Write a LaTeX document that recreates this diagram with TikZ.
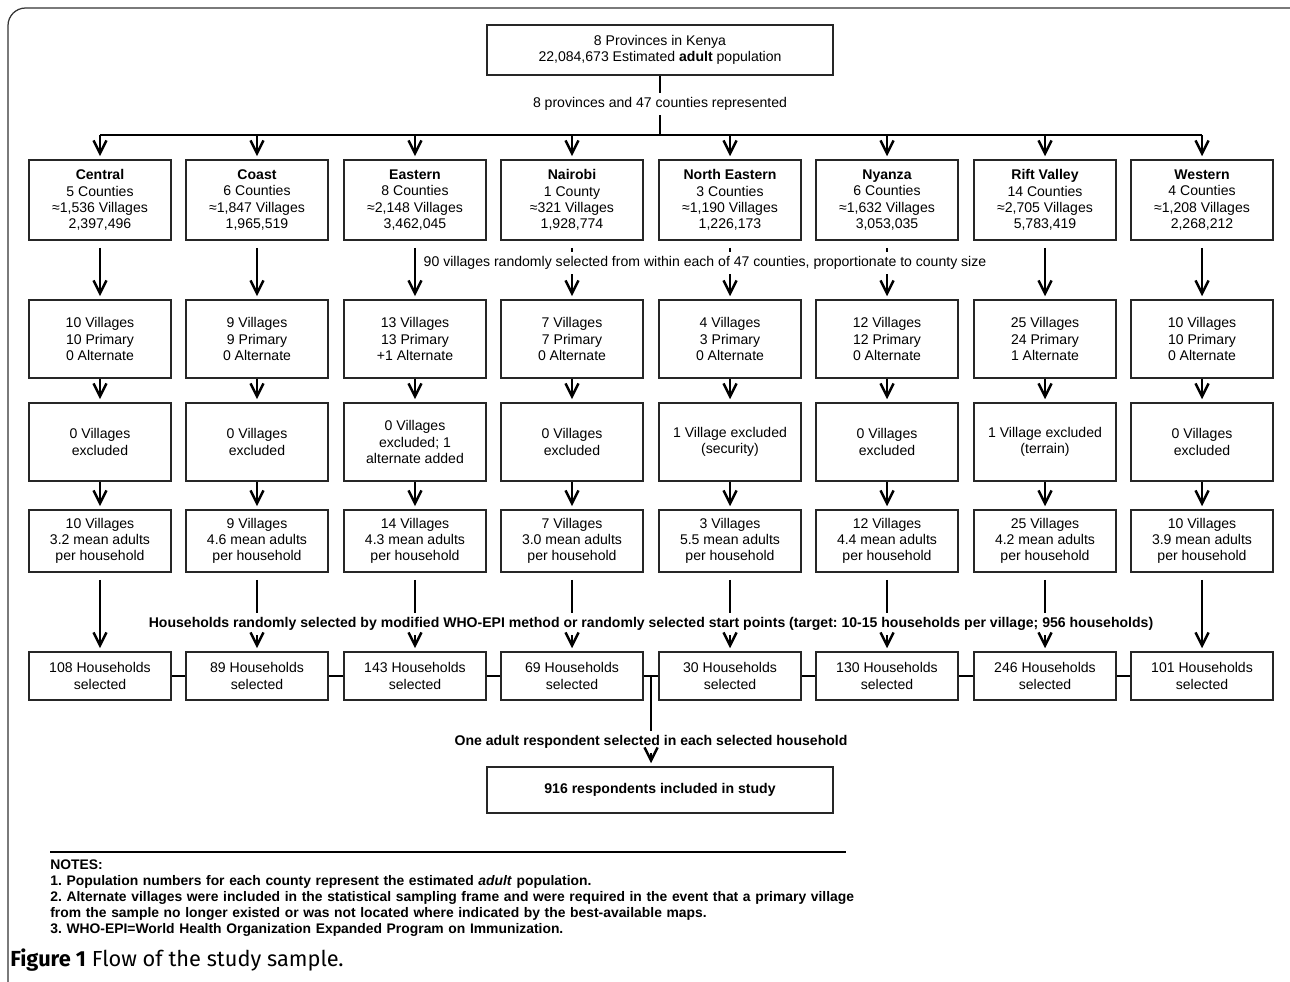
\documentclass[tikz,border=0pt]{standalone}
\usepackage{fontspec}
\setmainfont{Liberation Sans}
\newfontfamily\capfont{Fira Sans}
\usetikzlibrary{arrows.meta}
\frenchspacing

\tikzset{
  box/.style={draw=black!85, line width=0.9pt, align=center, inner sep=0pt,
    minimum width=2.84cm, font=\fontsize{8}{9.3}\selectfont},
  provbox/.style={box, minimum height=1.6cm},
  sampbox/.style={box, minimum height=1.56cm},
  meanbox/.style={box, minimum height=1.24cm},
  hhbox/.style={box, minimum height=0.96cm},
  label/.style={align=center, inner sep=2.5pt, font=\fontsize{8}{9.3}\selectfont},
  link/.style={line width=0.6pt},
  gap/.style={shorten <=0.14cm},
  arr/.style={link, shorten >=0.06cm, -{Straight Barb[length=0.26cm, width=0.26cm, line width=1.4pt]}},
}

\begin{document}
\begin{tikzpicture}[x=0.02cm, y=-0.02cm]
			%%%%% START %%%%%
			\useasboundingbox (0,0) rectangle (1290,981);
			\draw[black!80, line width=0.7pt, rounded corners=10] (8,995) -- (8,8) -- (1300,8);
			
			\node[box, minimum width=6.92cm, minimum height=1cm] (kenya) at (660,50) {8 Provinces in Kenya\\22,084,673 Estimated \textbf{adult} population};
			\node[label] (repr) at (660,104) {8 provinces and 47 counties represented};
			\coordinate (bar) at (660,135);
			
			% provinces
			\node[provbox] (cen1) at (100,200) {\textbf{Central}\\5 Counties\\≈1,536 Villages\\2,397,496};
			\node[provbox] (coa1) at (257,200) {\textbf{Coast}\\6 Counties\\≈1,847 Villages\\1,965,519};
			\node[provbox] (eas1) at (415,200) {\textbf{Eastern}\\8 Counties\\≈2,148 Villages\\3,462,045};
			\node[provbox] (nai1) at (572,200) {\textbf{Nairobi}\\1 County\\≈321 Villages\\1,928,774};
			\node[provbox] (nea1) at (730,200) {\textbf{North Eastern}\\3 Counties\\≈1,190 Villages\\1,226,173};
			\node[provbox] (nya1) at (887,200) {\textbf{Nyanza}\\6 Counties\\≈1,632 Villages\\3,053,035};
			\node[provbox] (rif1) at (1045,200) {\textbf{Rift Valley}\\14 Counties\\≈2,705 Villages\\5,783,419};
			\node[provbox] (wes1) at (1202,200) {\textbf{Western}\\4 Counties\\≈1,208 Villages\\2,268,212};
			
			\node[label] (rand) at (705,263) {90 villages randomly selected from within each of 47 counties, proportionate to county size};
			
			% sampled villages
			\node[sampbox] (cen2) at (100,339) {10 Villages\\10 Primary\\0 Alternate};
			\node[sampbox] (coa2) at (257,339) {9 Villages\\9 Primary\\0 Alternate};
			\node[sampbox] (eas2) at (415,339) {13 Villages\\13 Primary\\+1 Alternate};
			\node[sampbox] (nai2) at (572,339) {7 Villages\\7 Primary\\0 Alternate};
			\node[sampbox] (nea2) at (730,339) {4 Villages\\3 Primary\\0 Alternate};
			\node[sampbox] (nya2) at (887,339) {12 Villages\\12 Primary\\0 Alternate};
			\node[sampbox] (rif2) at (1045,339) {25 Villages\\24 Primary\\1 Alternate};
			\node[sampbox] (wes2) at (1202,339) {10 Villages\\10 Primary\\0 Alternate};
			
			% exclusions
			\node[sampbox] (cen3) at (100,442) {0 Villages\\excluded};
			\node[sampbox] (coa3) at (257,442) {0 Villages\\excluded};
			\node[sampbox] (eas3) at (415,442) {0 Villages\\excluded; 1\\alternate added};
			\node[sampbox] (nai3) at (572,442) {0 Villages\\excluded};
			\node[sampbox] (nea3) at (730,442) {1 Village excluded\\(security)};
			\node[sampbox] (nya3) at (887,442) {0 Villages\\excluded};
			\node[sampbox] (rif3) at (1045,442) {1 Village excluded\\(terrain)};
			\node[sampbox] (wes3) at (1202,442) {0 Villages\\excluded};
			
			% mean adults
			\node[meanbox] (cen4) at (100,541) {10 Villages\\3.2 mean adults\\per household};
			\node[meanbox] (coa4) at (257,541) {9 Villages\\4.6 mean adults\\per household};
			\node[meanbox] (eas4) at (415,541) {14 Villages\\4.3 mean adults\\per household};
			\node[meanbox] (nai4) at (572,541) {7 Villages\\3.0 mean adults\\per household};
			\node[meanbox] (nea4) at (730,541) {3 Villages\\5.5 mean adults\\per household};
			\node[meanbox] (nya4) at (887,541) {12 Villages\\4.4 mean adults\\per household};
			\node[meanbox] (rif4) at (1045,541) {25 Villages\\4.2 mean adults\\per household};
			\node[meanbox] (wes4) at (1202,541) {10 Villages\\3.9 mean adults\\per household};
			
			\node[label, font=\bfseries\fontsize{8}{9.3}\selectfont] (hhsel) at (651,624) {Households randomly selected by modified WHO-EPI method or randomly selected start points (target: 10-15 households per village; 956 households)};
			
			% households
			\node[hhbox] (cen5) at (100,676) {108 Households\\selected};
			\node[hhbox] (coa5) at (257,676) {89 Households\\selected};
			\node[hhbox] (eas5) at (415,676) {143 Households\\selected};
			\node[hhbox] (nai5) at (572,676) {69 Households\\selected};
			\node[hhbox] (nea5) at (730,676) {30 Households\\selected};
			\node[hhbox] (nya5) at (887,676) {130 Households\\selected};
			\node[hhbox] (rif5) at (1045,676) {246 Households\\selected};
			\node[hhbox] (wes5) at (1202,676) {101 Households\\selected};
			\coordinate (join) at (651,676);
			
			\node[label, font=\bfseries\fontsize{8}{9.3}\selectfont] (resp) at (651,742) {One adult respondent selected in each selected household};
			\node[box, minimum width=6.92cm, minimum height=0.92cm, font=\bfseries\fontsize{8}{9.3}\selectfont] (final) at (660,790) {916 respondents included in study};
			
			% top split
			\draw[link] (kenya) -- (repr);
			\draw[link] (repr) -- (bar);
			\draw[link] (cen1 |- bar) -- (wes1 |- bar);
			\draw[arr] (cen1 |- bar) -- (cen1);
			\draw[arr] (coa1 |- bar) -- (coa1);
			\draw[arr] (eas1 |- bar) -- (eas1);
			\draw[arr] (nai1 |- bar) -- (nai1);
			\draw[arr] (nea1 |- bar) -- (nea1);
			\draw[arr] (nya1 |- bar) -- (nya1);
			\draw[arr] (rif1 |- bar) -- (rif1);
			\draw[arr] (wes1 |- bar) -- (wes1);
			
			% provinces to villages
			\draw[arr, gap] (cen1) -- (cen2);
			\draw[arr, gap] (coa1) -- (coa2);
			\draw[arr, gap] (eas1) -- (eas2);
			\draw[link, gap] (nai1) -- (nai1 |- rand.north);
			\draw[arr] (nai1 |- rand.south) -- (nai2);
			\draw[link, gap] (nea1) -- (nea1 |- rand.north);
			\draw[arr] (nea1 |- rand.south) -- (nea2);
			\draw[link, gap] (nya1) -- (nya1 |- rand.north);
			\draw[arr] (nya1 |- rand.south) -- (nya2);
			\draw[arr, gap] (rif1) -- (rif2);
			\draw[arr, gap] (wes1) -- (wes2);
			
			\draw[arr] (cen2) -- (cen3);
			\draw[arr] (coa2) -- (coa3);
			\draw[arr] (eas2) -- (eas3);
			\draw[arr] (nai2) -- (nai3);
			\draw[arr] (nea2) -- (nea3);
			\draw[arr] (nya2) -- (nya3);
			\draw[arr] (rif2) -- (rif3);
			\draw[arr] (wes2) -- (wes3);
			
			\draw[arr] (cen3) -- (cen4);
			\draw[arr] (coa3) -- (coa4);
			\draw[arr] (eas3) -- (eas4);
			\draw[arr] (nai3) -- (nai4);
			\draw[arr] (nea3) -- (nea4);
			\draw[arr] (nya3) -- (nya4);
			\draw[arr] (rif3) -- (rif4);
			\draw[arr] (wes3) -- (wes4);
			
			% villages to households
			\draw[arr, gap] (cen4) -- (cen5);
			\draw[link, gap] (coa4) -- (coa4 |- hhsel.north);
			\draw[arr] (coa4 |- hhsel.south) -- (coa5);
			\draw[link, gap] (eas4) -- (eas4 |- hhsel.north);
			\draw[arr] (eas4 |- hhsel.south) -- (eas5);
			\draw[link, gap] (nai4) -- (nai4 |- hhsel.north);
			\draw[arr] (nai4 |- hhsel.south) -- (nai5);
			\draw[link, gap] (nea4) -- (nea4 |- hhsel.north);
			\draw[arr] (nea4 |- hhsel.south) -- (nea5);
			\draw[link, gap] (nya4) -- (nya4 |- hhsel.north);
			\draw[arr] (nya4 |- hhsel.south) -- (nya5);
			\draw[link, gap] (rif4) -- (rif4 |- hhsel.north);
			\draw[arr] (rif4 |- hhsel.south) -- (rif5);
			\draw[arr, gap] (wes4) -- (wes5);
			
			% household chain and respondents
			\draw[link] (cen5) -- (coa5);
			\draw[link] (coa5) -- (eas5);
			\draw[link] (eas5) -- (nai5);
			\draw[link] (nai5) -- (nea5);
			\draw[link] (nea5) -- (nya5);
			\draw[link] (nya5) -- (rif5);
			\draw[link] (rif5) -- (wes5);
			\draw[link] (join) -- (join |- resp.north);
			\draw[arr] (resp.south) -- (resp.south |- final.north);
			
			% notes and caption
			\node[anchor=north west, align=left, inner sep=0pt, text width=18cm, font=\bfseries\fontsize{7.9}{9.1}\selectfont] (notes) at (50,859) {NOTES:\\1. Population numbers for each county represent the estimated \textit{adult} population.\\2. Alternate villages were included in the statistical sampling frame and were required in the event that a primary village\\from the sample no longer existed or was not located where indicated by the best-available maps.\\3. WHO-EPI=World Health Organization Expanded Program on Immunization.};
			\draw[line width=0.8pt] ([yshift=0.14cm]notes.north west) -- ++(796,0);
			\node[anchor=west, inner sep=0pt, font=\capfont\fontsize{12.4}{14}\selectfont] (caption) at (10,960) {\textbf{Figure 1} Flow of the study sample.};
			%%%%% END %%%%%
\end{tikzpicture}
\end{document}
